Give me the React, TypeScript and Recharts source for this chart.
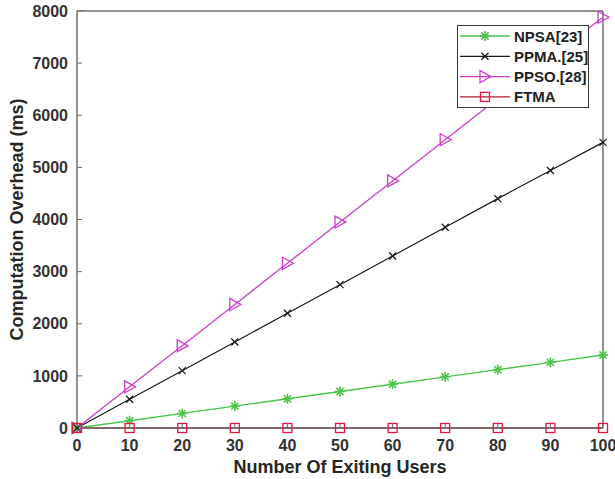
import React from "react";
import { LineChart, Line, XAxis, YAxis, Legend } from "recharts";

const users = [0, 10, 20, 30, 40, 50, 60, 70, 80, 90, 100];
const npsa = [0, 140, 280, 420, 560, 700, 840, 980, 1120, 1260, 1400];
const ppma = [0, 550, 1100, 1650, 2200, 2750, 3300, 3850, 4400, 4940, 5480];
const ppso = [0, 790, 1580, 2370, 3160, 3950, 4740, 5530, 6320, 7110, 7880];
const ftma = [0, 0, 0, 0, 0, 0, 0, 0, 0, 0, 0];

const xTicks = [0, 10, 20, 30, 40, 50, 60, 70, 80, 90, 100];
const yTicks = [0, 1000, 2000, 3000, 4000, 5000, 6000, 7000, 8000];

const data = users.map((u, i) => ({
  users: u,
  npsa: npsa[i],
  ppma: ppma[i],
  ppso: ppso[i],
  ftma: ftma[i],
}));

const GREEN = "#4cc34c";
const BLACK = "#1a1a1a";
const MAGENTA = "#c93fc9";
const RED_LINE = "#a8202e";
const RED_MARK = "#e5173d";
const AXIS = "#6e6e6e";
const FONT = "'Liberation Sans', Arial, Helvetica, sans-serif";

type Shape = "star" | "x" | "tri" | "square";

function Marker({ shape, cx, cy, color }: { shape: Shape; cx: number; cy: number; color: string }) {
  if (cx == null || cy == null || isNaN(cx) || isNaN(cy)) return null;
  if (shape === "star") {
    const r = 5;
    const d = 3.6;
    return (
      <g stroke={color} strokeWidth={1.6}>
        <line x1={cx - r} y1={cy} x2={cx + r} y2={cy} />
        <line x1={cx} y1={cy - r} x2={cx} y2={cy + r} />
        <line x1={cx - d} y1={cy - d} x2={cx + d} y2={cy + d} />
        <line x1={cx - d} y1={cy + d} x2={cx + d} y2={cy - d} />
      </g>
    );
  }
  if (shape === "x") {
    const d = 3.5;
    return (
      <g stroke={color} strokeWidth={1.3}>
        <line x1={cx - d} y1={cy - d} x2={cx + d} y2={cy + d} />
        <line x1={cx - d} y1={cy + d} x2={cx + d} y2={cy - d} />
      </g>
    );
  }
  if (shape === "tri") {
    const pts = `${cx - 5},${cy - 6} ${cx - 5},${cy + 6} ${cx + 6},${cy}`;
    return <polygon points={pts} fill="none" stroke={color} strokeWidth={1.3} />;
  }
  return (
    <rect x={cx - 4.5} y={cy - 4.5} width={9} height={9} fill="none" stroke={color} strokeWidth={1.3} />
  );
}

const makeDot = (shape: Shape, color: string) => (props: any) => (
  <Marker key={`${shape}-${props.index}`} shape={shape} cx={props.cx} cy={props.cy} color={color} />
);

const legendItems: { name: string; line: string; mark: string; shape: Shape }[] = [
  { name: "NPSA[23]", line: GREEN, mark: GREEN, shape: "star" },
  { name: "PPMA.[25]", line: BLACK, mark: BLACK, shape: "x" },
  { name: "PPSO.[28]", line: MAGENTA, mark: MAGENTA, shape: "tri" },
  { name: "FTMA", line: RED_LINE, mark: RED_MARK, shape: "square" },
];

function LegendBox() {
  return (
    <svg width={132} height={83} style={{ display: "block" }}>
      <rect x={0.5} y={0.5} width={131} height={82} fill="#ffffff" stroke="#3a3a3a" strokeWidth={1} />
      {legendItems.map((it, i) => {
        const cy = 11 + i * 20.3;
        return (
          <g key={it.name}>
            <line x1={3} y1={cy} x2={53} y2={cy} stroke={it.line} strokeWidth={1.3} />
            <Marker shape={it.shape} cx={28} cy={cy} color={it.mark} />
            <text x={57} y={cy + 5.5} fontFamily={FONT} fontWeight="bold" fontSize={15} fill="#222">
              {it.name}
            </text>
          </g>
        );
      })}
    </svg>
  );
}

const tickStyle = { fontFamily: FONT, fontWeight: "bold" as const, fontSize: 16, fill: "#333" };

export default function App() {
  return (
    <div style={{ position: "absolute", left: 0, top: 0, width: 615, height: 479, background: "#fff" }}>
      <LineChart
        width={615}
        height={479}
        data={data}
        margin={{ top: 10, right: 11, bottom: 21, left: 17 }}
      >
        <XAxis
          xAxisId="bottom"
          dataKey="users"
          type="number"
          domain={[0, 100]}
          ticks={xTicks}
          height={30}
          tickSize={-5}
          tickMargin={17}
          stroke={AXIS}
          axisLine={{ stroke: AXIS, strokeWidth: 1.5 }}
          tickLine={{ stroke: AXIS }}
          tick={tickStyle}
          label={{
            value: "Number Of Exiting Users",
            position: "bottom",
            offset: 2,
            style: { fontFamily: FONT, fontWeight: "bold", fontSize: 18, fill: "#262626" },
          }}
        />
        <XAxis
          xAxisId="top"
          orientation="top"
          dataKey="users"
          type="number"
          domain={[0, 100]}
          ticks={xTicks}
          height={1}
          tickSize={-5}
          tick={false}
          axisLine={{ stroke: AXIS, strokeWidth: 1.5 }}
          tickLine={{ stroke: AXIS }}
        />
        <YAxis
          yAxisId="left"
          type="number"
          domain={[0, 8000]}
          ticks={yTicks}
          width={60}
          tickSize={-5}
          tickMargin={14}
          axisLine={{ stroke: AXIS, strokeWidth: 1.5 }}
          tickLine={{ stroke: AXIS }}
          tick={tickStyle}
          label={{
            value: "Computation Overhead (ms)",
            angle: -90,
            position: "insideLeft",
            offset: 0,
            style: { fontFamily: FONT, fontWeight: "bold", fontSize: 18, fill: "#262626", textAnchor: "middle" },
          }}
        />
        <YAxis
          yAxisId="right"
          orientation="right"
          type="number"
          domain={[0, 8000]}
          ticks={yTicks}
          width={1}
          tickSize={-5}
          tick={false}
          axisLine={{ stroke: AXIS, strokeWidth: 1.5 }}
          tickLine={{ stroke: AXIS }}
        />
        <Legend
          layout="horizontal"
          align="center"
          verticalAlign="middle"
          content={() => <LegendBox />}
          wrapperStyle={{ position: "absolute", left: 457, top: 25, width: 132, height: 83 }}
        />
        <Line
          xAxisId="bottom"
          yAxisId="left"
          dataKey="npsa"
          stroke={GREEN}
          strokeWidth={1.4}
          dot={makeDot("star", GREEN)}
          activeDot={false}
          isAnimationActive={false}
        />
        <Line
          xAxisId="bottom"
          yAxisId="left"
          dataKey="ppma"
          stroke={BLACK}
          strokeWidth={1.2}
          dot={makeDot("x", BLACK)}
          activeDot={false}
          isAnimationActive={false}
        />
        <Line
          xAxisId="bottom"
          yAxisId="left"
          dataKey="ppso"
          stroke={MAGENTA}
          strokeWidth={1.3}
          dot={makeDot("tri", MAGENTA)}
          activeDot={false}
          isAnimationActive={false}
        />
        <Line
          xAxisId="bottom"
          yAxisId="left"
          dataKey="ftma"
          stroke={RED_LINE}
          strokeWidth={1.4}
          dot={makeDot("square", RED_MARK)}
          activeDot={false}
          isAnimationActive={false}
        />
      </LineChart>
    </div>
  );
}
